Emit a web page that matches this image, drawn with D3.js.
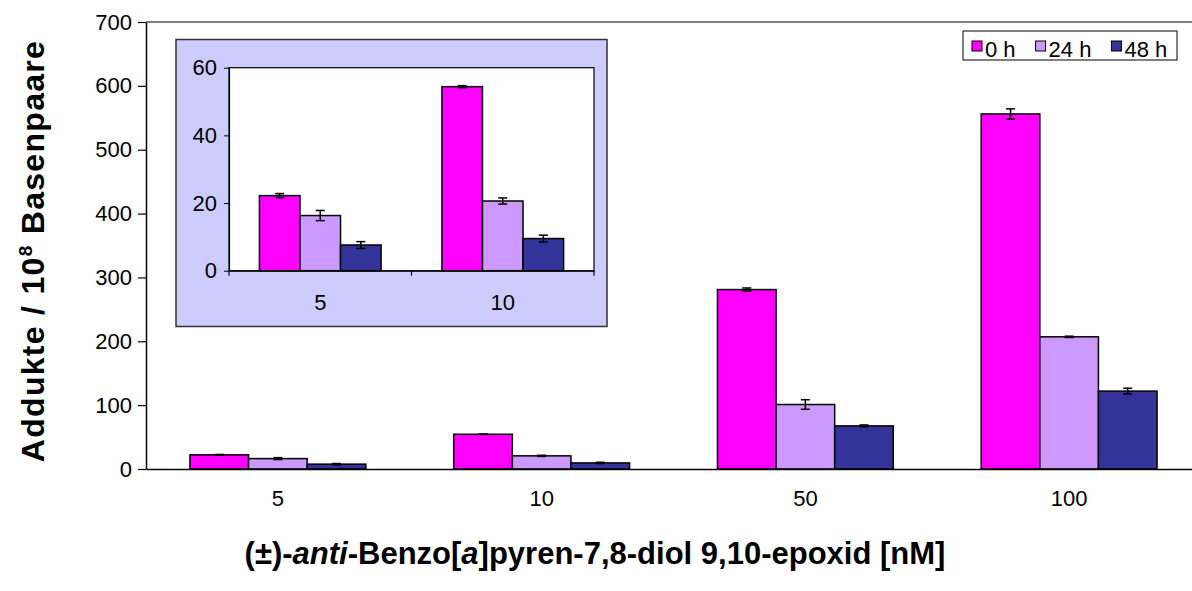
<!DOCTYPE html>
<html>
<head>
<meta charset="utf-8">
<script src="https://cdn.jsdelivr.net/npm/d3@7"></script>
<style>
  html, body { margin: 0; padding: 0; background: #fff; }
  svg { display: block; font-family: Arial, "Liberation Sans", sans-serif; }
</style>
</head>
<body>
<svg id="chart" width="1192" height="591"></svg>
<script>
// ---- data ----
const categories = ["5", "10", "50", "100"];
const seriesNames = ["0 h", "24 h", "48 h"];
const seriesColors = ["#FF00FF", "#CC99FF", "#333399"];
const values0h  = [22.2, 54.4, 281, 556];
const values24h = [16.3, 20.6, 101, 207];
const values48h = [7.6, 9.5, 67.5, 122];
const err0h  = [0.6, 0.3, 2.5, 8];
const err24h = [1.5, 0.9, 7.5, 1];
const err48h = [1.0, 1.0, 1.5, 4.5];
const yTicks = [0, 100, 200, 300, 400, 500, 600, 700];
const insetCategories = ["5", "10"];
const insetTicks = [0, 20, 40, 60];

const allValues = [values0h, values24h, values48h];
const allErrors = [err0h, err24h, err48h];

const svg = d3.select("#chart");

// ---- main chart ----
const M = { left: 146, right: 1201, top: 22, bottom: 469 };
const x = d3.scaleBand().domain(categories).range([M.left, M.right]).paddingInner(0).paddingOuter(0);
const y = d3.scaleLinear().domain([0, 700]).range([M.bottom, M.top]);

function groupScale(band) {
  // gap width 150% : band = 3 bars + 1.5 bar
  const bw = band / 4.5;
  return d3.scaleBand().domain(seriesNames).range([0.75 * bw, 3.75 * bw]).padding(0);
}
const xs = groupScale(x.bandwidth());

// plot frame (top line; right edge lies beyond the picture)
svg.append("line").attr("x1", M.left).attr("x2", M.right).attr("y1", M.top).attr("y2", M.top)
  .attr("stroke", "#000").attr("stroke-width", 1.2);

function drawBars(g, cats, xScale, subScale, yScale) {
  seriesNames.forEach((s, si) => {
    cats.forEach((c, ci) => {
      const v = allValues[si][ci];
      const e = allErrors[si][ci];
      const bx = xScale(c) + subScale(s);
      const bw = subScale.bandwidth();
      g.append("rect")
        .attr("x", bx).attr("y", yScale(v))
        .attr("width", bw).attr("height", yScale(0) - yScale(v))
        .attr("fill", seriesColors[si]).attr("stroke", "#000").attr("stroke-width", 1.5);
      const cx = bx + bw / 2;
      const eg = g.append("g").attr("stroke", "#000").attr("stroke-width", 1.5);
      eg.append("line").attr("x1", cx).attr("x2", cx).attr("y1", yScale(v + e)).attr("y2", yScale(v - e));
      eg.append("line").attr("x1", cx - 4.5).attr("x2", cx + 4.5).attr("y1", yScale(v + e)).attr("y2", yScale(v + e));
      eg.append("line").attr("x1", cx - 4.5).attr("x2", cx + 4.5).attr("y1", yScale(v - e)).attr("y2", yScale(v - e));
    });
  });
}

const mainG = svg.append("g");
drawBars(mainG, categories, x, xs, y);

// y axis
const yAxis = svg.append("g").attr("transform", `translate(${M.left},0)`)
  .call(d3.axisLeft(y).tickValues(yTicks).tickSize(8).tickPadding(6).tickSizeOuter(0));
yAxis.select(".domain").attr("stroke", "#000").attr("stroke-width", 1.5);
yAxis.selectAll(".tick line").attr("stroke", "#000").attr("stroke-width", 1.2);
yAxis.selectAll("text").attr("font-size", 22).attr("fill", "#000");

// x axis
const xAxis = svg.append("g").attr("transform", `translate(0,${M.bottom})`)
  .call(d3.axisBottom(x).tickSize(0).tickPadding(21).tickSizeOuter(0));
xAxis.select(".domain").attr("stroke", "#000").attr("stroke-width", 1.5);
xAxis.selectAll("text").attr("font-size", 22).attr("fill", "#000");

// axis titles
const xt = svg.append("text").attr("x", 595).attr("y", 564).attr("text-anchor", "middle")
  .attr("font-size", 31).attr("font-weight", "bold").attr("fill", "#000");
xt.append("tspan").text("(\u00B1)-");
xt.append("tspan").attr("font-style", "italic").text("anti");
xt.append("tspan").text("-Benzo[");
xt.append("tspan").attr("font-style", "italic").text("a");
xt.append("tspan").text("]pyren-7,8-diol 9,10-epoxid [nM]");

const yt = svg.append("text").attr("transform", "translate(44,251) rotate(-90)")
  .attr("text-anchor", "middle").attr("font-size", 32).attr("font-weight", "bold")
  .attr("letter-spacing", 1.3).attr("fill", "#000");
yt.append("tspan").text("Addukte / 10");
yt.append("tspan").attr("font-size", 19).attr("dy", -12).text("8");
yt.append("tspan").attr("dy", 12).text(" Basenpaare");

// legend
const lg = svg.append("g");
lg.append("rect").attr("x", 963).attr("y", 31).attr("width", 214).attr("height", 29)
  .attr("fill", "#fff").attr("stroke", "#000").attr("stroke-width", 1);
let lx = 972;
seriesNames.forEach((s, i) => {
  lg.append("rect").attr("x", lx).attr("y", 41).attr("width", 10).attr("height", 10)
    .attr("fill", seriesColors[i]).attr("stroke", "#000").attr("stroke-width", 1);
  const t = lg.append("text").attr("x", lx + 13).attr("y", 57).attr("font-size", 22).attr("fill", "#000").text(s);
  lx += 13 + t.node().getComputedTextLength() + 20;
});

// ---- inset ----
const I = { left: 229, right: 594, top: 67.7, bottom: 270.7 };
svg.append("rect").attr("x", 176).attr("y", 39.5).attr("width", 431).attr("height", 287)
  .attr("fill", "#CCCCFF").attr("stroke", "#333").attr("stroke-width", 1.5);
svg.append("rect").attr("x", I.left).attr("y", I.top).attr("width", I.right - I.left).attr("height", I.bottom - I.top)
  .attr("fill", "#fff").attr("stroke", "#000").attr("stroke-width", 1.2);

const xi = d3.scaleBand().domain(insetCategories).range([I.left, I.right]).padding(0);
const yi = d3.scaleLinear().domain([0, 60]).range([I.bottom, I.top]);
const xsi = groupScale(xi.bandwidth());
const insetG = svg.append("g");
drawBars(insetG, insetCategories, xi, xsi, yi);

const yiAxis = svg.append("g").attr("transform", `translate(${I.left},0)`)
  .call(d3.axisLeft(yi).tickValues(insetTicks).tickSize(5).tickPadding(7).tickSizeOuter(0));
yiAxis.select(".domain").attr("stroke", "#000").attr("stroke-width", 1.2);
yiAxis.selectAll(".tick line").attr("stroke", "#000");
yiAxis.selectAll("text").attr("font-size", 22).attr("fill", "#000");

const xiAxis = svg.append("g").attr("transform", `translate(0,${I.bottom})`)
  .call(d3.axisBottom(xi).tickSize(0).tickPadding(24).tickSizeOuter(0));
xiAxis.select(".domain").attr("stroke", "#000").attr("stroke-width", 1.2);
xiAxis.selectAll("text").attr("font-size", 22).attr("fill", "#000");
// category separator ticks
const edges = insetCategories.map(c => xi(c)).concat([xi.range()[1]]);
svg.append("g").selectAll("line").data(edges).join("line")
  .attr("x1", d => d).attr("x2", d => d).attr("y1", I.bottom).attr("y2", I.bottom + 5)
  .attr("stroke", "#000").attr("stroke-width", 1.2);
</script>
</body>
</html>
